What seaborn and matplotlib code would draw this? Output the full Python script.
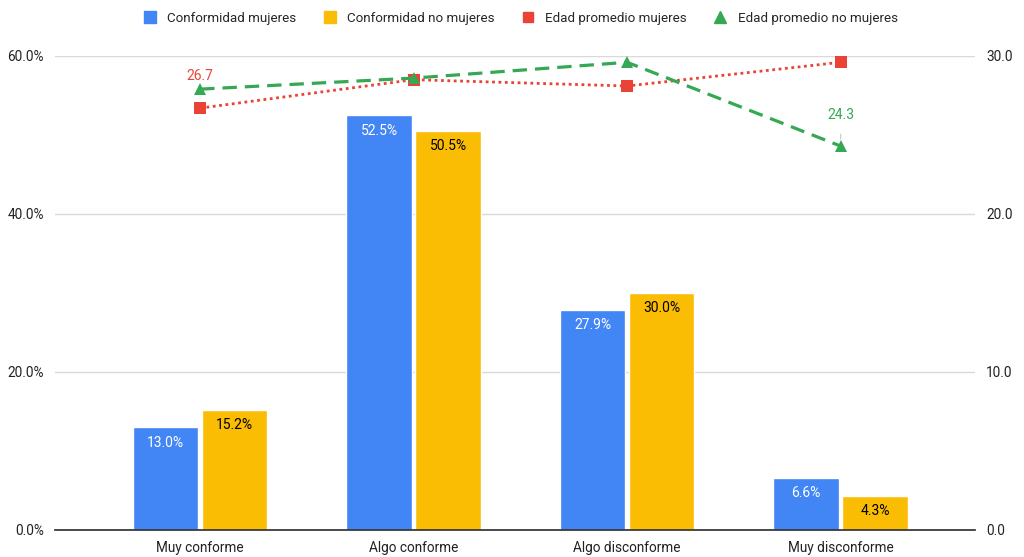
import numpy as np
import pandas as pd
import matplotlib.pyplot as plt
import seaborn as sns
from matplotlib.lines import Line2D
from matplotlib.ticker import FuncFormatter

# ---- data ----
categories = ["Muy conforme", "Algo conforme", "Algo disconforme", "Muy disconforme"]
conf_mujeres = [13.0, 52.5, 27.9, 6.6]
conf_no_mujeres = [15.2, 50.5, 30.0, 4.3]
edad_mujeres = [26.7, 28.5, 28.1, 29.6]
edad_no_mujeres = [27.9, 28.6, 29.6, 24.3]

series_bar = ["Conformidad mujeres", "Conformidad no mujeres"]
BLUE, YELLOW, RED, GREEN = "#4285F4", "#FBBC04", "#EA4335", "#34A853"

df = pd.DataFrame({
    "cat": categories * 2,
    "serie": [series_bar[0]] * 4 + [series_bar[1]] * 4,
    "valor": conf_mujeres + conf_no_mujeres,
})

sns.set_theme(style="white")
plt.rcParams["font.family"] = ["Roboto", "DejaVu Sans"]

fig = plt.figure(figsize=(10.24, 5.57), dpi=100)
ax = fig.add_axes([0.0537, 0.0485, 0.8985, 0.851])

sns.barplot(data=df, x="cat", y="valor", hue="serie", order=categories,
            hue_order=series_bar, palette=[BLUE, YELLOW], width=0.645, gap=0.05,
            ax=ax, legend=False, saturation=1)

ax.set_ylim(0, 60)
ax.set_xlim(-0.68, 3.63)
ax.set_yticks([0, 20, 40, 60])
ax.yaxis.set_major_formatter(FuncFormatter(lambda v, p: f"{v:.1f}%"))
ax.set_xlabel("")
ax.set_ylabel("")
ax.grid(axis="y", color="#d9d9d9", linewidth=1)
ax.set_axisbelow(True)
for s in ["top", "right", "left"]:
    ax.spines[s].set_visible(False)
ax.spines["bottom"].set_color("#333333")
ax.tick_params(axis="both", length=0, labelsize=9.8, colors="#222222", pad=8)

# bar labels
for cont, col in zip(ax.containers, ["white", "black"]):
    for bar in cont:
        h = bar.get_height()
        ax.annotate(f"{h:.1f}%", (bar.get_x() + bar.get_width() / 2, h),
                    xytext=(0, -11), textcoords="offset points",
                    ha="center", va="center", fontsize=10, color=col)

# lines on secondary axis
ax2 = ax.twinx()
xs = np.arange(len(categories))
sns.lineplot(x=xs, y=edad_mujeres, ax=ax2, color=RED, linestyle=(0, (1, 1.3)),
             linewidth=2, marker="s", markersize=8, markeredgewidth=0)
sns.lineplot(x=xs, y=edad_no_mujeres, ax=ax2, color=GREEN, linestyle=(0, (4.5, 2.5)),
             linewidth=2.3, marker="^", markersize=9, markeredgewidth=0)
ax2.set_ylim(0, 30)
ax2.set_yticks([0, 10, 20, 30])
ax2.yaxis.set_major_formatter(FuncFormatter(lambda v, p: f"{v:.1f}"))
ax2.tick_params(axis="y", length=0, labelsize=9.8, colors="#222222", pad=8)
ax2.grid(False)
for s in ax2.spines.values():
    s.set_visible(False)

# line labels
ax2.annotate(f"{edad_mujeres[0]:.1f}", (xs[0], edad_no_mujeres[0]), xytext=(0, 9.5),
             textcoords="offset points", ha="center", va="center",
             fontsize=10, color=RED)
ax2.annotate(f"{edad_no_mujeres[3]:.1f}", (xs[3], edad_no_mujeres[3]), xytext=(0, 22),
             textcoords="offset points", ha="center", va="center", fontsize=10,
             color=GREEN, arrowprops=dict(arrowstyle="-", color="#cccccc", lw=0.8,
                                          shrinkA=6, shrinkB=5))

# legend
handles = [
    Line2D([], [], marker="s", color=BLUE, linestyle="", markersize=9),
    Line2D([], [], marker="s", color=YELLOW, linestyle="", markersize=9),
    Line2D([], [], marker="s", color=RED, linestyle="", markersize=7),
    Line2D([], [], marker="^", color=GREEN, linestyle="", markersize=8),
]
labels = series_bar + ["Edad promedio mujeres", "Edad promedio no mujeres"]
fig.legend(handles, labels, loc="center", bbox_to_anchor=(0.505, 0.967), ncol=4,
           frameon=False, fontsize=9.6, handletextpad=0.3, columnspacing=1.5)

fig.savefig("out.png", dpi=100)
